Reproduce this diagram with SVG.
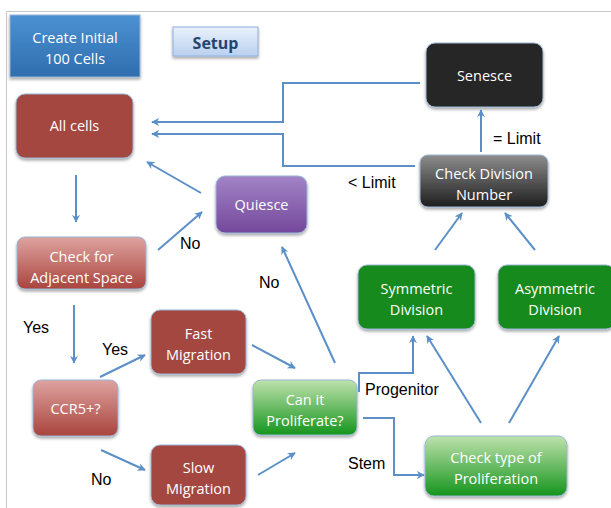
<svg xmlns="http://www.w3.org/2000/svg" width="611" height="508" viewBox="0 0 611 508">
<defs>
<linearGradient id="gBlue" x1="0" y1="0" x2="0" y2="1"><stop offset="0" stop-color="#4b91d3"/><stop offset="1" stop-color="#2f6eae"/></linearGradient>
<linearGradient id="gSetup" x1="0" y1="0" x2="0" y2="1"><stop offset="0" stop-color="#eaf1fb"/><stop offset="1" stop-color="#b9d0ef"/></linearGradient>
<linearGradient id="gPink" x1="0" y1="0" x2="0" y2="1"><stop offset="0" stop-color="#dea3a0"/><stop offset="1" stop-color="#a9443d"/></linearGradient>
<linearGradient id="gPurple" x1="0" y1="0" x2="0" y2="1"><stop offset="0" stop-color="#a283c6"/><stop offset="1" stop-color="#74489c"/></linearGradient>
<linearGradient id="gGray" x1="0" y1="0" x2="0" y2="1"><stop offset="0" stop-color="#8d8d8d"/><stop offset="1" stop-color="#1e1e1e"/></linearGradient>
<linearGradient id="gGreen" x1="0" y1="0" x2="0" y2="1"><stop offset="0" stop-color="#bfe2ad"/><stop offset="1" stop-color="#15951d"/></linearGradient>
<filter id="sh" x="-10%" y="-10%" width="125%" height="130%"><feDropShadow dx="0" dy="2" stdDeviation="1.5" flood-color="#000" flood-opacity="0.35"/></filter>
<marker id="ah" viewBox="0 0 10 10" refX="9" refY="5" markerWidth="8" markerHeight="8" orient="auto" markerUnits="userSpaceOnUse"><path d="M0,0 L10,5 L0,10 L3,5 z" fill="#5b8fc8"/></marker>
</defs>
<style>
.n{stroke:#9ab6d6;stroke-width:1;filter:url(#sh)}
.t{font-family:"Open Sans","Noto Sans",sans-serif;font-size:14.5px;fill:#ffffff;text-anchor:middle}
.l{font-family:"Liberation Sans",Arial,sans-serif;font-size:16px;fill:#000}
.c{fill:none;stroke:#5b8fc8;stroke-width:2;marker-end:url(#ah)}
</style>
<rect x="0" y="0" width="611" height="508" fill="#ffffff"/>
<path d="M6.5 508 V11.5 H611" fill="none" stroke="#c8c8c8" stroke-width="1"/>

<g id="create">
<rect x="10" y="15" width="130" height="62" fill="url(#gBlue)" class="n" stroke="#3d7fc0"/>
<text class="t" x="75" y="43">Create Initial</text>
<text class="t" x="75" y="64">100 Cells</text>
</g>
<g id="setup">
<rect x="173" y="27" width="85" height="29" fill="url(#gSetup)" stroke="#8fb0dd" stroke-width="1" filter="url(#sh)"/>
<text x="215.5" y="48.5" font-family="'Open Sans','Noto Sans',sans-serif" font-size="16" font-weight="bold" fill="#24436f" text-anchor="middle">Setup</text>
</g>
<g id="allcells">
<rect x="16" y="94" width="117" height="64" rx="9" fill="#a3463f" class="n"/>
<text class="t" x="74.5" y="131">All cells</text>
</g>
<g id="quiesce">
<rect x="216" y="176" width="91" height="57" rx="9" fill="url(#gPurple)" class="n"/>
<text class="t" x="261.5" y="209.5">Quiesce</text>
</g>
<g id="senesce">
<rect x="426" y="43" width="117" height="64" rx="9" fill="#262626" class="n"/>
<text class="t" x="484.5" y="80.5">Senesce</text>
</g>
<g id="checkdiv">
<rect x="420" y="155" width="128" height="52" rx="8" fill="url(#gGray)" class="n"/>
<text class="t" x="484" y="178.5">Check Division</text>
<text class="t" x="484" y="199.5">Number</text>
</g>
<g id="checkadj">
<rect x="17" y="237" width="129" height="52" rx="8" fill="url(#gPink)" class="n"/>
<text class="t" x="81.5" y="261.5">Check for</text>
<text class="t" x="81.5" y="282.5">Adjacent Space</text>
</g>
<g id="ccr5">
<rect x="33" y="380" width="85" height="56" rx="8" fill="url(#gPink)" class="n"/>
<text class="t" x="75.5" y="413.5">CCR5+?</text>
</g>
<g id="fast">
<rect x="151" y="310" width="95" height="64" rx="9" fill="#a3463f" class="n"/>
<text class="t" x="198.5" y="338.5">Fast</text>
<text class="t" x="198.5" y="359.5">Migration</text>
</g>
<g id="slow">
<rect x="151" y="445" width="95" height="60" rx="9" fill="#a3463f" class="n"/>
<text class="t" x="198.5" y="472.5">Slow</text>
<text class="t" x="198.5" y="493.5">Migration</text>
</g>
<g id="canit">
<rect x="253" y="380" width="104" height="55" rx="8" fill="url(#gGreen)" class="n"/>
<text class="t" x="305" y="404.5">Can it</text>
<text class="t" x="305" y="425.5">Proliferate?</text>
</g>
<g id="symmetric">
<rect x="358" y="265" width="117" height="64" rx="9" fill="#138a1c" class="n"/>
<text class="t" x="416.5" y="293.5">Symmetric</text>
<text class="t" x="416.5" y="314.5">Division</text>
</g>
<g id="asymmetric">
<rect x="498" y="265" width="117" height="64" rx="9" fill="#138a1c" class="n"/>
<text class="t" x="555" y="293.5">Asymmetric</text>
<text class="t" x="555" y="314.5">Division</text>
</g>
<g id="checktype">
<rect x="425" y="436" width="142" height="60" rx="9" fill="url(#gGreen)" class="n"/>
<text class="t" x="496" y="462.5">Check type of</text>
<text class="t" x="496" y="483.5">Proliferation</text>
</g>

<g id="connectors">
<path class="c" d="M420 83 H283 V122 H152"/>
<path class="c" d="M415 166 H283 V134 H152"/>
<path class="c" d="M481 152 V110"/>
<path class="c" d="M435 250 L462 213"/>
<path class="c" d="M535 250 L505 213"/>
<path class="c" d="M481 423 L427 336"/>
<path class="c" d="M509 423 L559 336"/>
<path class="c" d="M359 392 V373 H413 V336"/>
<path class="c" d="M363 418 H394 V475 H424"/>
<path class="c" d="M252 345 L295 368"/>
<path class="c" d="M258 475 L295 453"/>
<path class="c" d="M335 363 L282 247"/>
<path class="c" d="M76 175 V222"/>
<path class="c" d="M158 250 L202 212"/>
<path class="c" d="M201 193 L147 162"/>
<path class="c" d="M74 305 V363"/>
<path class="c" d="M100 377 L145 355"/>
<path class="c" d="M101 450 L145 470"/>
</g>
<g id="labels">
<text class="l" x="493" y="144">= Limit</text>
<text class="l" x="348" y="188">&lt; Limit</text>
<text class="l" x="180" y="249">No</text>
<text class="l" x="259" y="288">No</text>
<text class="l" x="23" y="333">Yes</text>
<text class="l" x="102" y="355">Yes</text>
<text class="l" x="365" y="395">Progenitor</text>
<text class="l" x="348" y="469">Stem</text>
<text class="l" x="91" y="485">No</text>
</g>
</svg>
